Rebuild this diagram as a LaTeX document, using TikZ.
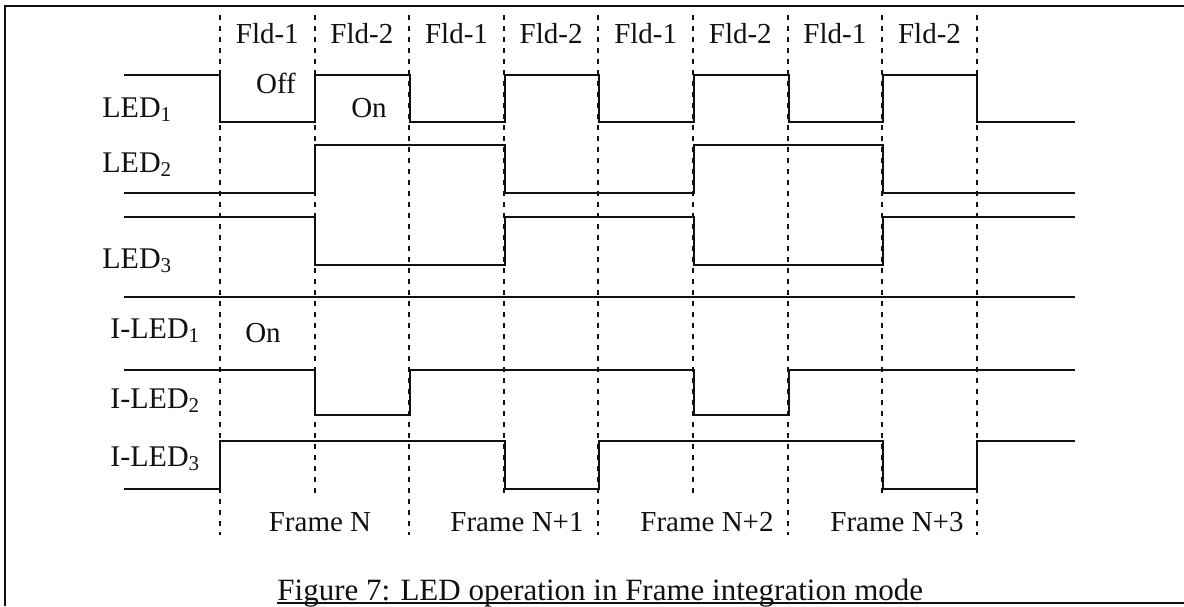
\documentclass[tikz,border=0pt]{standalone}
\usepackage{fontspec}
\setmainfont{Liberation Serif}
\usepackage{xcolor}
\usepackage{tikz}
\usetikzlibrary{positioning, calc}
\definecolor{tdInk}{HTML}{111111}
\definecolor{tdPaper}{HTML}{FFFFFF}
\tikzset{
  wave/.style={
    draw=tdInk, line width=1.1pt,
    line join=miter
  },
  fieldline/.style={
    draw=tdInk, line width=1.0pt,
    dash pattern=on 2.5pt off 3pt
  },
  frameline/.style={
    draw=tdInk, line width=1.0pt
  },
  siglabel/.style={
    anchor=base west, inner sep=0pt,
    font=\fontsize{15}{17}\selectfont, text=tdInk
  },
  fldlabel/.style={
    anchor=base, inner sep=0pt,
    font=\fontsize{14.5}{17}\selectfont, text=tdInk
  },
  statelabel/.style={
    anchor=base, inner sep=0pt,
    font=\fontsize{14.5}{17}\selectfont, text=tdInk
  },
  figcaption/.style={
    anchor=base west, inner sep=0pt,
    font=\fontsize{15.5}{18}\selectfont, text=tdInk
  }
}

\begin{document}
\begin{tikzpicture}[x=0.5pt, y=-0.5pt]
      \useasboundingbox[fill=tdPaper] (0,0) rectangle (1184,606);
      % outer frame
      \draw[frameline] (5,606) -- (5,6) -- (1184,6);
      % frame boundaries (long) and field boundaries (short)
      \foreach \i in {0,2,4,6,8}
        \draw[fieldline] ({220+94.6*\i},15) -- ({220+94.6*\i},535);
      \foreach \i in {1,3,5,7}
        \draw[fieldline] ({220+94.6*\i},15) -- ({220+94.6*\i},494);
      \foreach \i/\txt in {0/Fld-1, 1/Fld-2, 2/Fld-1, 3/Fld-2, 4/Fld-1, 5/Fld-2, 6/Fld-1, 7/Fld-2}
        \node[fldlabel] (fld\i) at ({267.3+94.6*\i},43) {\txt};
      % signal names
      \node[siglabel] (led1) at (102,117) {LED\textsubscript{1}};
      \node[siglabel] (led2) at (102,172) {LED\textsubscript{2}};
      \node[siglabel] (led3) at (102,268) {LED\textsubscript{3}};
      \node[siglabel] (iled1) at (110,338) {I-LED\textsubscript{1}};
      \node[siglabel] (iled2) at (110,408) {I-LED\textsubscript{2}};
      \node[siglabel] (iled3) at (110,466) {I-LED\textsubscript{3}};
      % waveforms
      \draw[wave] (124,75) -| (220,122) -| (315,75) -| (410,122) -| (505,75) -| (599,122) -| (694,75) -| (789,122) -| (883,75) -| (977,122) -- (1075,122);
      \draw[wave] (124,193) -| (315,145) -| (505,193) -| (694,145) -| (883,193) -- (1075,193);
      \draw[wave] (124,217) -| (315,265) -| (505,217) -| (694,265) -| (883,217) -- (1075,217);
      \draw[wave] (124,297) -- (1075,297);
      \draw[wave] (124,370) -| (315,415) -| (410,370) -| (694,415) -| (789,370) -- (1075,370);
      \draw[wave] (124,489) -| (220,441) -| (505,489) -| (599,441) -| (883,489) -| (977,441) -- (1075,441);
      % state notes
      \node[statelabel] (off1) at (276,93) {Off};
      \node[statelabel] (on1) at (369,117) {On};
      \node[statelabel] (on2) at (263,342) {On};
      % frame names
      \node[fldlabel] (frm0) at (320,531) {Frame N};
      \node[fldlabel] (frm1) at (517,531) {Frame N+1};
      \node[fldlabel] (frm2) at (707,531) {Frame N+2};
      \node[fldlabel] (frm3) at (897,531) {Frame N+3};
      % caption
      \node[figcaption] (cap) at (277,600) {Figure 7: LED operation in Frame integration mode};
      \coordinate (capend) at (1184,603);
      \draw[frameline] (cap.base west |- capend) -- (capend);
    \end{tikzpicture}
\end{document}
